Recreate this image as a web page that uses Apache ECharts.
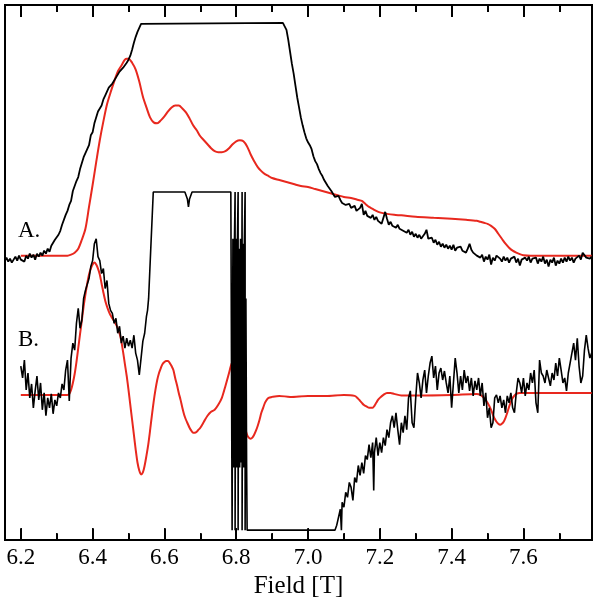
<!DOCTYPE html>
<html>
<head>
<meta charset="utf-8">
<script src="https://cdn.jsdelivr.net/npm/echarts@6/dist/echarts.min.js"></script>
<style>html,body{margin:0;padding:0;background:#fff}#c{width:602px;height:604px}</style>
</head>
<body>
<div id="c"></div>
<script>
// Field axis [T]
const fieldMin = 6.156, fieldMax = 7.791;
const intensityMin = 0, intensityMax = 538;
const majorTicks = [6.2, 6.4, 6.6, 6.8, 7.0, 7.2, 7.4, 7.6];
const minorTicks = [6.3, 6.5, 6.7, 6.9, 7.1, 7.3, 7.5, 7.7];
const axisTitle = 'Field [T]';
const panelLabels = ['A.', 'B.'];

// Trace A, measured (black) [field, intensity a.u.]
const measuredA = [
[6.156,281],[6.16,284],[6.165,280],[6.17,283],[6.175,279],[6.18,282],[6.185,285],[6.19,281],[6.195,286],[6.20,282],
[6.205,284],[6.21,280],[6.215,286],[6.22,283],[6.225,288],[6.23,284],[6.235,287],[6.24,282],[6.245,288],[6.25,285],
[6.255,289],[6.26,286],[6.265,291],[6.27,288],[6.275,293],[6.28,290],[6.285,296],[6.29,295],[6.295,302],[6.30,303],
[6.305,307],[6.31,311],[6.315,317],[6.32,318],[6.325,327],[6.33,331],[6.335,337],[6.34,341],[6.345,351],[6.35,353],
[6.355,361],[6.36,365],[6.365,373],[6.37,375],[6.375,385],[6.38,387],[6.385,393],[6.39,397],[6.395,407],[6.40,410],
[6.405,419],[6.41,421],[6.415,431],[6.42,433],[6.425,437],[6.43,443],[6.435,447],[6.44,449],[6.445,455],[6.45,454],
[6.455,459],[6.46,461],[6.465,465],[6.47,466],[6.475,471],[6.48,472],[6.485,475],[6.49,477],[6.495,480],[6.50,483],
[6.505,487],[6.51,493],[6.515,500],[6.52,506],[6.525,511],[6.53,515],[6.535,519],[6.54,520],[6.93,520],[6.935,519],
[6.94,513],[6.945,503],[6.95,491],[6.955,479],[6.96,469],[6.965,457],[6.97,445],[6.975,435],[6.98,425],[6.985,417],
[6.99,410],[6.995,404],[7.00,400],[7.005,397],[7.01,393],[7.015,386],[7.02,381],[7.025,378],[7.03,373],[7.035,369],
[7.04,366],[7.045,362],[7.05,359],[7.055,356],[7.06,354],[7.065,351],[7.07,348],[7.075,345],[7.08,344],[7.085,346],
[7.09,342],[7.095,339],[7.10,340],[7.105,337],[7.11,335],[7.115,338],[7.12,334],[7.125,332],[7.13,336],[7.135,331],
[7.14,329],[7.145,334],[7.15,338],[7.155,327],[7.16,331],[7.165,326],[7.17,328],[7.175,324],[7.18,327],[7.185,322],
[7.19,325],[7.195,321],[7.20,323],[7.205,318],[7.21,319],[7.215,330],[7.22,323],[7.225,317],[7.23,320],[7.235,316],
[7.24,318],[7.245,314],[7.25,317],[7.255,313],[7.26,315],[7.265,311],[7.27,313],[7.275,309],[7.28,312],[7.285,307],
[7.29,310],[7.295,305],[7.30,308],[7.305,304],[7.31,307],[7.315,303],[7.32,305],[7.325,308],[7.33,312],[7.335,303],
[7.34,301],[7.345,304],[7.35,299],[7.355,302],[7.36,297],[7.365,300],[7.37,295],[7.375,298],[7.38,294],[7.385,297],
[7.39,293],[7.395,296],[7.40,292],[7.405,297],[7.41,291],[7.415,294],[7.42,292],[7.425,295],[7.43,291],[7.435,293],
[7.44,289],[7.445,293],[7.45,298],[7.455,292],[7.46,289],[7.465,291],[7.47,286],[7.475,288],[7.48,284],[7.485,287],
[7.49,280],[7.495,285],[7.50,282],[7.505,287],[7.51,277],[7.515,284],[7.52,281],[7.525,286],[7.53,288],[7.535,283],
[7.54,280],[7.545,285],[7.55,281],[7.555,284],[7.56,279],[7.565,283],[7.57,281],[7.575,285],[7.58,279],[7.585,283],
[7.59,276],[7.595,282],[7.60,280],[7.605,284],[7.61,281],[7.615,285],[7.62,279],[7.625,283],[7.63,281],[7.635,284],
[7.64,278],[7.645,283],[7.65,280],[7.655,285],[7.66,278],[7.665,282],[7.67,275],[7.675,282],[7.68,279],[7.685,284],
[7.69,276],[7.695,281],[7.70,278],[7.705,283],[7.71,279],[7.715,284],[7.72,280],[7.725,285],[7.73,281],[7.735,284],
[7.74,279],[7.745,283],[7.75,281],[7.755,286],[7.76,282],[7.765,289],[7.77,287],[7.775,284],[7.78,286],[7.785,283],[7.79,285]
];

// Trace A, simulated (red)
const simulatedA = [
[6.20,286],[6.25,286],[6.30,286],[6.33,286],[6.34,287],[6.35,289],[6.36,293],[6.37,302],[6.38,313],[6.39,335],
[6.40,357],[6.41,380],[6.42,402],[6.43,421],[6.44,438],[6.45,450],[6.46,461],[6.47,471],[6.48,477],[6.49,483],
[6.495,484],[6.50,484],[6.51,480],[6.52,473],[6.53,461],[6.54,446],[6.55,435],[6.56,425],[6.57,420],[6.58,419],
[6.59,422],[6.60,426],[6.61,431],[6.62,435],[6.63,437],[6.64,437],[6.65,434],[6.66,430],[6.67,424],[6.68,417],
[6.69,412],[6.70,406],[6.71,402],[6.72,398],[6.73,394],[6.74,391],[6.75,390],[6.76,390],[6.77,391],[6.78,394],
[6.79,398],[6.80,401],[6.81,402],[6.82,401],[6.83,396],[6.84,388],[6.85,381],[6.86,375],[6.87,371],[6.88,368],
[6.89,366],[6.90,364],[6.92,362],[6.94,360],[6.96,358],[6.98,356],[7.00,355],[7.02,353],[7.04,351],[7.06,349],
[7.08,347],[7.10,345],[7.12,344],[7.14,342],[7.15,341],[7.16,338],[7.17,335],[7.18,333],[7.19,331],[7.20,329.5],
[7.22,328],[7.24,327],[7.26,326.5],[7.30,325],[7.35,324],[7.40,323],[7.44,322],[7.47,321],[7.48,320],[7.49,319],
[7.50,318],[7.51,316],[7.52,313],[7.53,308],[7.54,303],[7.55,298],[7.56,294],[7.57,291],[7.58,289],[7.59,287.5],
[7.60,286.5],[7.62,286],[7.70,286],[7.79,286]
];

// Trace B, measured (black), clipped at top and bottom
const measuredB = [
[6.20,175],[6.205,163],[6.21,181],[6.215,151],[6.22,168],[6.225,143],[6.23,157],[6.235,133],[6.24,150],[6.245,165],
[6.25,141],[6.255,158],[6.26,131],[6.265,148],[6.27,125],[6.275,143],[6.28,133],[6.285,147],[6.29,127],[6.295,141],
[6.30,135],[6.305,148],[6.31,143],[6.315,157],[6.32,151],[6.325,171],[6.33,181],[6.335,140],[6.34,183],[6.345,198],
[6.35,191],[6.355,218],[6.36,233],[6.365,213],[6.37,221],[6.375,243],[6.38,251],[6.385,253],[6.39,263],[6.395,275],
[6.40,281],[6.405,298],[6.41,303],[6.415,285],[6.42,281],[6.425,268],[6.43,273],[6.435,253],[6.44,261],[6.445,238],
[6.45,231],[6.455,228],[6.46,218],[6.465,223],[6.47,208],[6.475,215],[6.48,198],[6.485,205],[6.49,193],[6.495,203],
[6.50,195],[6.505,201],[6.51,193],[6.515,206],[6.52,188],[6.525,181],[6.53,166],[6.535,183],[6.54,200],[6.545,208],
[6.55,225],[6.553,231],[6.556,243],[6.562,293],[6.569,350],[6.657,350],[6.664,343],[6.667,335],[6.670,343],[6.677,350],
[6.785,350],
[6.7886,350],[6.7886,10],[6.7908,303],[6.7930,73],[6.7950,298],[6.7969,350],[6.7969,10],[6.7992,303],[6.8014,73],
[6.8033,298],[6.8053,350],[6.8053,10],[6.8075,293],[6.8097,73],[6.8120,303],[6.8142,78],[6.8164,350],[6.8164,10],
[6.8187,298],[6.8209,73],[6.8228,303],[6.8248,350],[6.8248,10],[6.8270,243],[6.8290,76],[6.8304,10],[7.075,10],
[7.08,15],[7.085,23],[7.09,31],[7.093,10],[7.095,38],[7.10,33],[7.105,48],[7.11,43],[7.115,58],[7.12,53],
[7.125,40],[7.13,63],[7.135,58],[7.14,75],[7.145,65],[7.15,78],[7.155,67],[7.16,85],[7.165,81],[7.17,96],
[7.175,83],[7.18,98],[7.183,50],[7.185,88],[7.19,103],[7.195,85],[7.20,98],[7.205,88],[7.21,103],[7.215,95],
[7.22,111],[7.225,103],[7.23,118],[7.235,125],[7.24,113],[7.245,128],[7.25,111],[7.255,96],[7.26,118],[7.265,108],
[7.27,125],[7.275,111],[7.28,143],[7.285,150],[7.29,118],[7.295,113],[7.30,143],[7.305,168],[7.31,158],[7.315,143],
[7.32,161],[7.325,171],[7.33,148],[7.335,165],[7.34,178],[7.345,185],[7.35,163],[7.355,175],[7.36,151],[7.365,168],
[7.37,173],[7.375,161],[7.38,170],[7.385,158],[7.39,148],[7.395,165],[7.40,133],[7.405,158],[7.41,183],[7.415,168],
[7.42,148],[7.425,165],[7.43,151],[7.435,171],[7.44,158],[7.445,165],[7.45,150],[7.455,163],[7.46,145],[7.465,160],
[7.47,151],[7.475,163],[7.48,145],[7.485,158],[7.49,135],[7.495,148],[7.50,123],[7.505,133],[7.51,113],[7.515,118],
[7.52,143],[7.525,146],[7.53,138],[7.535,145],[7.54,133],[7.545,141],[7.55,128],[7.555,145],[7.56,138],[7.565,148],
[7.57,133],[7.575,128],[7.58,148],[7.585,163],[7.59,158],[7.595,148],[7.60,163],[7.605,145],[7.61,158],[7.615,151],
[7.62,168],[7.625,158],[7.63,171],[7.635,138],[7.64,128],[7.645,181],[7.65,168],[7.655,165],[7.66,158],[7.665,171],
[7.67,163],[7.675,155],[7.68,168],[7.685,161],[7.69,178],[7.695,165],[7.70,183],[7.705,171],[7.71,158],[7.715,163],
[7.72,150],[7.725,168],[7.73,178],[7.735,188],[7.74,198],[7.745,181],[7.75,203],[7.755,175],[7.76,158],[7.765,165],
[7.77,191],[7.775,206],[7.78,193],[7.785,183],[7.79,188]
];

// Trace B, simulated (red)
const simulatedB = [
[6.20,146],[6.25,146],[6.30,146],[6.33,146],[6.335,147],[6.34,151],[6.345,158],[6.35,167],[6.355,179],[6.36,193],
[6.365,207],[6.37,221],[6.375,235],[6.38,247],[6.385,258],[6.39,267],[6.395,273],[6.40,277],[6.405,279],[6.41,277],
[6.415,273],[6.42,267],[6.425,258],[6.43,249],[6.435,241],[6.44,235],[6.445,230],[6.45,226],[6.455,223],[6.46,220],
[6.465,217],[6.47,213],[6.475,208],[6.48,200],[6.485,189],[6.49,177],[6.495,165],[6.50,151],[6.505,136],[6.51,121],
[6.515,106],[6.52,91],[6.525,78],[6.53,70],[6.535,66],[6.54,68],[6.545,75],[6.55,85],[6.555,96],[6.56,110],
[6.565,125],[6.57,139],[6.575,151],[6.58,161],[6.585,168],[6.59,173],[6.595,177],[6.60,179],[6.605,180],[6.61,180],
[6.615,178],[6.62,175],[6.625,171],[6.63,163],[6.635,156],[6.64,148],[6.645,141],[6.65,133],[6.655,126],[6.66,121],
[6.665,117],[6.67,113],[6.675,110],[6.68,108],[6.685,108],[6.69,109],[6.695,111],[6.70,113],[6.71,119],[6.72,125],
[6.73,129],[6.74,131],[6.75,136],[6.76,143],[6.77,155],[6.78,168],[6.785,175],[6.79,179],[6.795,177],[6.80,168],
[6.805,155],[6.81,143],[6.815,133],[6.82,123],[6.825,113],[6.83,106],[6.835,103],[6.84,102],[6.845,103],[6.85,106],
[6.855,110],[6.86,115],[6.865,121],[6.87,128],[6.875,133],[6.88,138],[6.885,141],[6.89,143],[6.90,144],[6.92,145],
[6.95,144],[7.00,145],[7.05,145],[7.10,146],[7.13,145],[7.14,142],[7.145,140],[7.15,138],[7.155,136],[7.16,135],
[7.165,134],[7.17,133],[7.175,133],[7.18,133],[7.185,135],[7.19,138],[7.195,141],[7.20,143],[7.21,146],[7.22,148],
[7.23,148],[7.24,147],[7.26,145.5],[7.30,145.5],[7.40,146],[7.47,147],[7.48,146],[7.49,143],[7.50,138],[7.51,131],
[7.515,126],[7.52,122],[7.525,119],[7.53,117],[7.535,116],[7.54,117],[7.545,119],[7.55,123],[7.555,128],[7.56,134],
[7.565,139],[7.57,143],[7.58,147],[7.59,148],[7.70,148],[7.79,148]
];

const FONT = '"Liberation Serif", "Times New Roman", serif';
const chart = echarts.init(document.getElementById('c'));

// frame ticks as markLine segments attached to a visible series
const tickSegments = [];
[[majorTicks, 12], [minorTicks, 7]].forEach(([list, len]) => {
  list.forEach(t => {
    tickSegments.push([{coord: [t, intensityMin]}, {coord: [t, intensityMin + len]}]);
    tickSegments.push([{coord: [t, intensityMax]}, {coord: [t, intensityMax - len]}]);
  });
});

function lineSeries(data, color, width, smooth, extra) {
  return Object.assign({
    type: 'line', data: data, xAxisIndex: 0, yAxisIndex: 0,
    showSymbol: false, symbol: 'none', smooth: smooth, animation: false,
    lineStyle: {color: color, width: width}
  }, extra || {});
}

function fieldAxis(pos, ticks, len, withLabels) {
  return {
    type: 'value', position: pos, offset: 0, min: fieldMin, max: fieldMax, z: 10,
    axisLine: {show: true, onZero: false, lineStyle: {color: '#000', width: 2}},
    splitLine: {show: false},
    axisTick: {show: true, inside: true, length: len, customValues: ticks},
    axisLabel: withLabels ? {
      show: true, customValues: ticks, margin: 6, color: '#000', fontFamily: FONT, fontSize: 23,
      formatter: v => v.toFixed(1)
    } : {show: false},
    name: withLabels ? axisTitle : '',
    nameLocation: 'middle', nameGap: 24,
    nameTextStyle: {color: '#000', fontFamily: FONT, fontSize: 25}
  };
}

chart.setOption({
  animation: false,
  grid: {left: 5, right: 10, top: 5, bottom: 61, show: true, borderColor: '#000', borderWidth: 2},
  xAxis: [
    fieldAxis('bottom', majorTicks, 12, true),
    fieldAxis('bottom', minorTicks, 7, false),
    fieldAxis('top', majorTicks, 12, false),
    fieldAxis('top', minorTicks, 7, false)
  ],
  yAxis: {type: 'value', min: intensityMin, max: intensityMax,
    axisLine: {show: false}, axisTick: {show: false}, axisLabel: {show: false}, splitLine: {show: false}},
  series: [
    lineSeries(simulatedA, '#e8281e', 2, 0.3),
    lineSeries(simulatedB, '#e8281e', 2, 0.3),
    lineSeries(measuredA, '#000', 1.8, false, {
      markLine: {silent: true, animation: false, symbol: ['none', 'none'], label: {show: false},
        lineStyle: {color: '#000', width: 2, type: 'solid'}, emphasis: {disabled: true}, data: tickSegments}
    }),
    lineSeries(measuredB, '#000', 1.6, false)
  ],
  graphic: [
    {type: 'text', style: {x: 18, y: 231, text: panelLabels[0], font: '23px ' + FONT, fill: '#000', verticalAlign: 'middle'}},
    {type: 'text', style: {x: 18, y: 340, text: panelLabels[1], font: '23px ' + FONT, fill: '#000', verticalAlign: 'middle'}}
  ]
});
</script>
</body>
</html>
